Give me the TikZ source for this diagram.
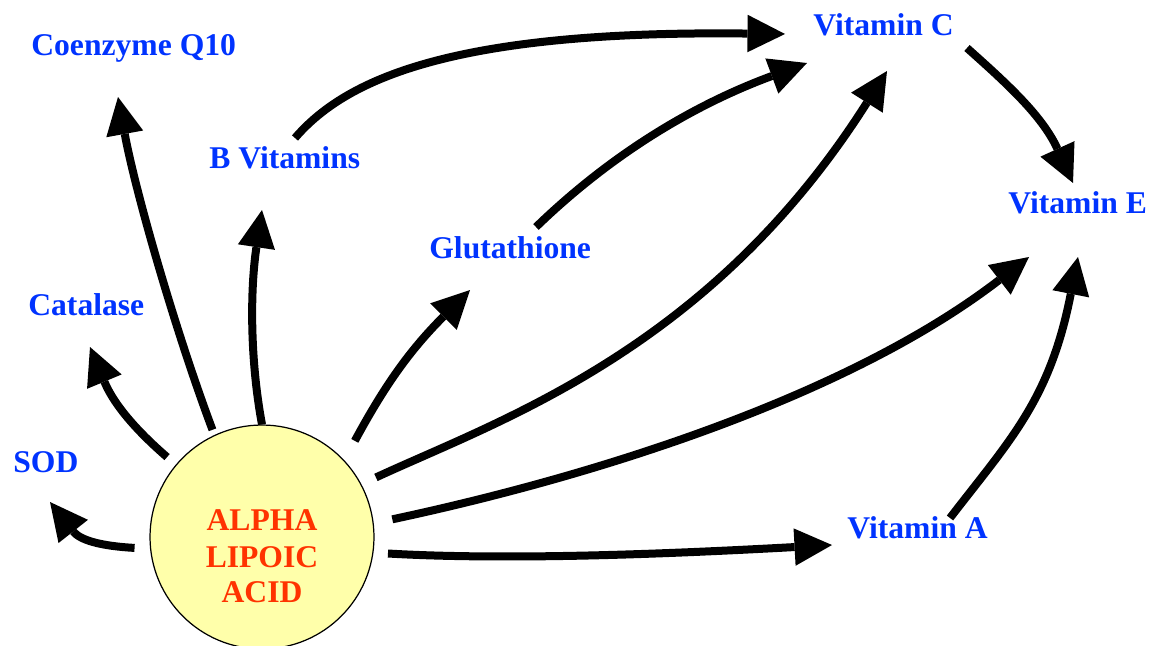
\documentclass[tikz,border=0pt]{standalone}
\usepackage{fontspec}
\setmainfont{Liberation Serif}
\usetikzlibrary{arrows.meta}
\definecolor{lblblue}{RGB}{0,51,255}
\definecolor{alared}{RGB}{255,51,0}
\definecolor{alafill}{RGB}{255,255,170}
\begin{document}
\begin{tikzpicture}[x=0.02cm,y=-0.02cm,
  lbl/.style={anchor=base west, inner sep=0pt, text=lblblue, font=\fontsize{18pt}{21pt}\selectfont\bfseries},
  alatxt/.style={anchor=base, inner sep=0pt, text=alared, font=\fontsize{18pt}{21pt}\selectfont\bfseries},
  conn/.style={line width=0.16cm, -{Triangle[length=0.75cm,width=0.75cm,line width=0pt]}},
]
\useasboundingbox (0,0) rectangle (1157,646);
% central circle
\node[circle, draw, line width=0.7pt, fill=alafill, minimum size=4.48cm, inner sep=0pt] (ala) at (262,537) {};
\node[alatxt] (ala1) at (262,530) {ALPHA};
\node[alatxt] (ala2) at (262,567) {LIPOIC};
\node[alatxt] (ala3) at (262,602) {ACID};
% labels
\node[lbl] (coq) at (31,55) {Coenzyme Q10};
\node[lbl] (bvit) at (209,168) {B Vitamins};
\node[lbl] (cat) at (28,315) {Catalase};
\node[lbl] (sod) at (13,472) {SOD};
\node[lbl] (glut) at (429,258) {Glutathione};
\node[lbl] (vc) at (813,35) {Vitamin C};
\node[lbl] (ve) at (1008,213) {Vitamin E};
\node[lbl] (va) at (847,538) {Vitamin A};
% connector ends
\coordinate (sodIn) at (50,502);
\coordinate (catIn) at (90,347);
\coordinate (coqIn) at (118,97);
\coordinate (bvitIn) at (262,210);
\coordinate (glutIn) at (470,290);
\coordinate (vcInA) at (887,71);
\coordinate (vcInB) at (785,34);
\coordinate (vcInG) at (807,63);
\coordinate (veInA) at (1029,257);
\coordinate (veInC) at (1073,183);
\coordinate (veInV) at (1078,257);
\coordinate (vaIn) at (832,545);
\coordinate (bvitOut) at (295,138);
\coordinate (glutOut) at (536,227);
\coordinate (vcOut) at (967,48);
\coordinate (vaOut) at (950,518);
% connectors from ALA
\draw[conn, shorten <=0.31cm] (ala.186) .. controls (100,546) and (80,540) .. (sodIn);
\draw[conn, shorten <=0.23cm] (ala.140) .. controls (130,425) and (112,400) .. (catIn);
\draw[conn, shorten <=0.11cm] (ala.115) .. controls (175,330) and (135,190) .. (coqIn);
\draw[conn] (ala.90) .. controls (250,360) and (250,290) .. (bvitIn);
\draw[conn, shorten <=0.44cm] (ala.43) .. controls (385,385) and (410,350) .. (glutIn);
\draw[conn, shorten <=0.32cm] (ala.28) .. controls (500,420) and (710,350) .. (vcInA);
\draw[conn, shorten <=0.38cm] (ala.7) .. controls (600,475) and (850,395) .. (veInA);
\draw[conn, shorten <=0.29cm] (ala.-8) .. controls (500,560) and (650,555) .. (vaIn);
% other connectors
\draw[conn] (bvitOut) .. controls (345,80) and (450,30) .. (vcInB);
\draw[conn] (glutOut) .. controls (600,165) and (680,110) .. (vcInG);
\draw[conn] (vcOut) .. controls (1005,82) and (1042,115) .. (veInC);
\draw[conn] (vaOut) .. controls (1010,440) and (1050,400) .. (veInV);
\end{tikzpicture}
\end{document}
